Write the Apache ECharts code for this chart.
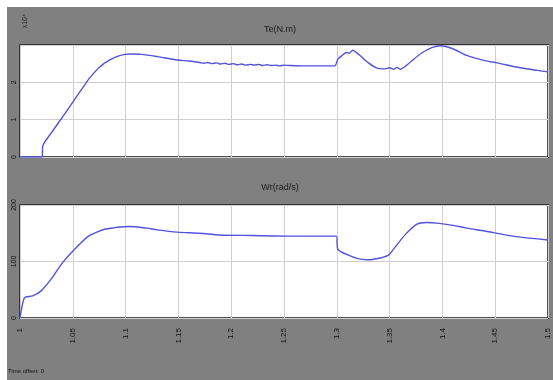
<!DOCTYPE html>
<html>
<head>
<meta charset="utf-8">
<script src="https://cdn.jsdelivr.net/npm/echarts@6/dist/echarts.min.js"></script>
<style>
html,body{margin:0;padding:0;background:#fff;width:553px;height:380px;overflow:hidden;}
#c{position:absolute;left:7px;top:7px;width:546px;height:373px;background:#808080;}
</style>
</head>
<body>
<div id="c"></div>
<script>
// X axis ticks (time, s)
var xTicks = [1, 1.05, 1.1, 1.15, 1.2, 1.25, 1.3, 1.35, 1.4, 1.45, 1.5];
var topYTicks = [0, 1, 2, 3];
var botYTicks = [0, 100, 200];

// Upper trace (x10^4)
var t1 = [1.000, 1.021, 1.0215, 1.030, 1.040, 1.050, 1.060, 1.066, 1.075, 1.085, 1.095, 1.104, 1.115, 1.130, 1.149, 1.160,
  1.170, 1.174, 1.178, 1.182, 1.186, 1.190, 1.194, 1.198, 1.202, 1.206, 1.210, 1.214, 1.218, 1.222, 1.226, 1.230, 1.234, 1.238, 1.242, 1.246, 1.250, 1.256, 1.270, 1.285, 1.298,
  1.301, 1.305, 1.309, 1.312, 1.315, 1.318, 1.322, 1.330, 1.338, 1.345, 1.350, 1.354, 1.357, 1.360, 1.363, 1.370, 1.380, 1.390, 1.398, 1.410, 1.423, 1.440, 1.452, 1.470, 1.490, 1.500];
var v1 = [0, 0, 0.29, 0.66, 1.06, 1.47, 1.88, 2.12, 2.40, 2.60, 2.72, 2.76, 2.75, 2.69, 2.60, 2.57,
  2.53, 2.51, 2.53, 2.50, 2.52, 2.49, 2.51, 2.48, 2.50, 2.47, 2.49, 2.46, 2.48, 2.46, 2.48, 2.45, 2.47, 2.45, 2.46, 2.44, 2.46, 2.45, 2.44, 2.44, 2.44,
  2.62, 2.72, 2.80, 2.78, 2.86, 2.81, 2.72, 2.52, 2.38, 2.36, 2.39, 2.35, 2.40, 2.35, 2.39, 2.55, 2.78, 2.93, 2.98, 2.90, 2.72, 2.58, 2.52, 2.41, 2.32, 2.28];

// Lower trace
var t2 = [1.000, 1.003, 1.005, 1.012, 1.020, 1.030, 1.0407, 1.055, 1.065, 1.0729, 1.080, 1.090, 1.0947, 1.104, 1.120, 1.130, 1.1487, 1.170, 1.189, 1.220, 1.256, 1.2995,
  1.301, 1.310, 1.320, 1.3286, 1.335, 1.3485, 1.355, 1.365, 1.3759, 1.385, 1.3949, 1.410, 1.423, 1.440, 1.4545, 1.470, 1.500];
var v2 = [0, 30, 37, 39, 48, 70, 99, 128, 145, 152, 157, 160, 161, 162, 159, 156, 152, 150, 147, 146, 145, 145,
  122, 112, 105, 103, 104, 111, 125, 148, 166, 169, 168, 164, 159, 154, 149, 144, 138];

var lineColor = '#5252e0';
function pairs(t, v){ return t.map(function(x,i){ return [x, v[i]]; }); }

var chart = echarts.init(document.getElementById('c'), null, {renderer:'canvas'});
var gridStyle = {show:true, backgroundColor:'#ffffff', borderColor:'#1a1a1a', borderWidth:1.5};
var splitStyle = {show:true, lineStyle:{color:'#cfcfcf', width:1}};
function xAx(idx, showLabel){
  return {type:'value', gridIndex:idx, min:xTicks[0], max:xTicks[xTicks.length-1], interval:0.05,
    axisLine:{show:false}, axisTick:{show:false}, splitLine:splitStyle,
    axisLabel:{show:showLabel, rotate:90, fontSize:8, color:'#111', margin:10, fontFamily:'Liberation Sans',
      formatter:function(v){ return String(+v.toFixed(2)); }}};
}
chart.setOption({
  animation:false,
  title:[
    {text:'Te(N.m)', left:'center', top:13, textStyle:{fontSize:9, fontWeight:'normal', color:'#1a1a1a', fontFamily:'Liberation Sans Narrow, Liberation Sans'}},
    {text:'Wr(rad/s)', left:'center', top:171, textStyle:{fontSize:9, fontWeight:'normal', color:'#1a1a1a', fontFamily:'Liberation Sans Narrow, Liberation Sans'}}
  ],
  graphic:[
    {type:'text', left:15, top:7, rotation:Math.PI/2, style:{text:'x10\u2074', fontSize:7, fill:'#222', fontFamily:'Liberation Sans'}},
    {type:'text', left:1, top:361, style:{text:'Time offset: 0', fontSize:6, fill:'#111', fontFamily:'Liberation Sans Narrow, Liberation Sans'}}
  ],
  grid:[
    Object.assign({left:13, top:38, width:528, height:112}, gridStyle),
    Object.assign({left:13, top:198, width:528, height:113}, gridStyle)
  ],
  xAxis:[xAx(0,false), xAx(1,true)],
  yAxis:[
    {type:'value', gridIndex:0, min:topYTicks[0], max:topYTicks[topYTicks.length-1], interval:1,
      axisLine:{show:false}, axisTick:{show:false}, splitLine:splitStyle,
      axisLabel:{rotate:90, fontSize:7, color:'#111', margin:2, fontFamily:'Liberation Sans',
        formatter:function(v){ return v===3 ? '' : String(v); }}},
    {type:'value', gridIndex:1, min:botYTicks[0], max:botYTicks[botYTicks.length-1], interval:100,
      axisLine:{show:false}, axisTick:{show:false}, splitLine:splitStyle,
      axisLabel:{rotate:90, fontSize:7, color:'#111', margin:2, fontFamily:'Liberation Sans'}}
  ],
  series:[
    {type:'line', xAxisIndex:0, yAxisIndex:0, data:pairs(t1, v1), showSymbol:false, smooth:0.25,
      lineStyle:{color:lineColor, width:1.4}},
    {type:'line', xAxisIndex:1, yAxisIndex:1, data:pairs(t2, v2), showSymbol:false, smooth:0.3,
      lineStyle:{color:lineColor, width:1.4}}
  ]
});
</script>
</body>
</html>
